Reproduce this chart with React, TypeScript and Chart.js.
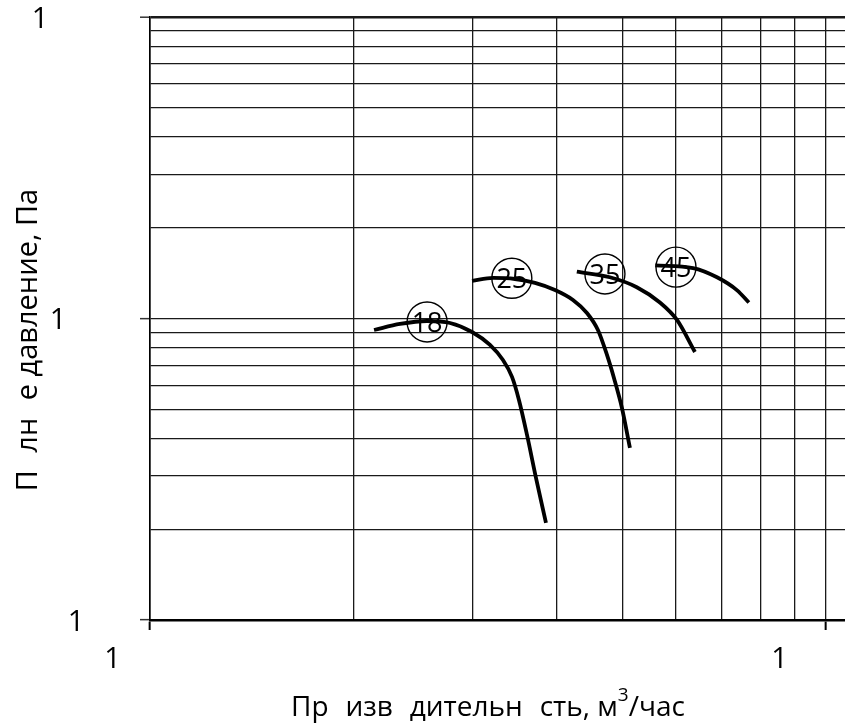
import React, { useEffect, useRef } from 'react';
import { Chart, registerables } from 'chart.js';

Chart.register(...registerables);

const FONT = '"Open Sans", "Noto Sans", sans-serif';

// Axis ranges (log scales)
const X_MIN = 100;
const X_MAX = 1067;
const Y_MIN = 10;
const Y_MAX = 1000;

// Grid / tick values
const xGridValues = [100, 200, 300, 400, 500, 600, 700, 800, 900, 1000];
const yGridValues = [10, 20, 30, 40, 50, 60, 70, 80, 90, 100, 200, 300, 400, 500, 600, 700, 800, 900, 1000];
const xMajorValues = [100, 1000];
const yMajorValues = [10, 100, 1000];
const xTickLabels = ['100', '1000'];
const yTickLabels = ['10', '100', '1000'];

// Fan curves (flow m3/h, pressure Pa)
const curve18X = [214.5, 234.3, 256.9, 277.9, 299.5, 318.4, 332.8, 343.2, 351.4, 361.2, 372.4, 385.3];
const curve18Y = [91.6, 95.9, 98.1, 96.6, 90.2, 81.7, 72.8, 64.0, 53.7, 41.1, 29.6, 21.0];
const curve25X = [299.5, 321.7, 346.7, 371.1, 397.3, 422.4, 443.0, 459.9, 474.3, 485.7, 499.1, 512.9];
const curve25Y = [133.2, 136.3, 135.2, 131.2, 124.3, 115.2, 104.3, 91.6, 75.7, 63.5, 50.5, 37.2];
const curve35X = [428, 479, 525, 568, 602, 640];
const curve35Y = [143, 137, 127, 113, 98.9, 77.4];
const curve45X = [559, 636, 690, 739, 769];
const curve45Y = [150, 147, 137, 124, 113];

// Circled curve labels
const circleNames = ['18', '25', '35', '45'];
const circleX = [257, 343, 471, 600];
const circleY = [97.4, 136, 140.5, 148];

const yTitle = 'Полное давление, Па';
const xTitleMain = 'Производительность, м';
const xTitleSup = '3';
const xTitleTail = '/час';

// glyphs missing from the original drawing's font
const HIDDEN = new Set(['о', '0']);

const pts = (xs: number[], ys: number[]) => xs.map((x, i) => ({ x, y: ys[i] }));

function drawRun(ctx: CanvasRenderingContext2D, text: string, x: number, y: number) {
  ctx.textAlign = 'left';
  for (let i = 0; i < text.length; i++) {
    const ch = text[i];
    if (HIDDEN.has(ch) || ch === ' ') continue;
    const off = ctx.measureText(text.slice(0, i)).width;
    ctx.fillText(ch, x + off, y);
  }
  return ctx.measureText(text).width;
}

const DIGIT_ADV = 18;

const textPlugin = {
  id: 'textPlugin',
  afterDraw(chart: any) {
    const ctx: CanvasRenderingContext2D = chart.ctx;
    const xs = chart.scales.x;
    const ys = chart.scales.y;
    ctx.save();
    ctx.fillStyle = '#000';

    // circle numbers
    ctx.font = `27px ${FONT}`;
    ctx.textAlign = 'center';
    ctx.textBaseline = 'alphabetic';
    circleNames.forEach((n, i) => {
      const px = xs.getPixelForValue(circleX[i]);
      const py = ys.getPixelForValue(circleY[i]);
      ctx.fillText(n, px, py + 10);
    });

    // y tick labels (right aligned)
    ctx.font = `29px ${FONT}`;
    ctx.textAlign = 'center';
    const R = ys.right - 47;
    yTickLabels.forEach((t, i) => {
      const py = ys.getPixelForValue(yMajorValues[i]);
      for (let j = 0; j < t.length; j++) {
        if (HIDDEN.has(t[j])) continue;
        const cx = R - (t.length - j - 0.5) * DIGIT_ADV;
        ctx.fillText(t[j], cx, py + 10.5);
      }
    });

    // x tick labels
    xTickLabels.forEach((t, i) => {
      const px = xs.getPixelForValue(xMajorValues[i]);
      const center = px - 19.5;
      for (let j = 0; j < t.length; j++) {
        if (HIDDEN.has(t[j])) continue;
        const cx = center - (t.length * DIGIT_ADV) / 2 + (j + 0.5) * DIGIT_ADV;
        ctx.fillText(t[j], cx, xs.top + 47.5);
      }
    });

    // x title
    ctx.font = `28px ${FONT}`;
    const wMain = ctx.measureText(xTitleMain).width;
    const wTail = ctx.measureText(xTitleTail).width;
    ctx.font = `19px ${FONT}`;
    const wSup = ctx.measureText(xTitleSup).width;
    const total = wMain + wSup + wTail;
    const start = 488 - total / 2;
    const base = xs.top + 96;
    ctx.font = `28px ${FONT}`;
    drawRun(ctx, xTitleMain, start, base);
    ctx.font = `19px ${FONT}`;
    drawRun(ctx, xTitleSup, start + wMain, base - 15);
    ctx.font = `28px ${FONT}`;
    drawRun(ctx, xTitleTail, start + wMain + wSup, base);

    // y title
    ctx.font = `29px ${FONT}`;
    const wy = ctx.measureText(yTitle).width;
    ctx.translate(37, 340);
    ctx.rotate(-Math.PI / 2);
    drawRun(ctx, yTitle, -wy / 2, 0);
    ctx.restore();
  },
};

const isIn = (arr: number[], v: number) => arr.some((a) => Math.abs(a - v) < 1e-6);

export default function App() {
  const ref = useRef<HTMLCanvasElement>(null);
  useEffect(() => {
    if (!ref.current) return;
    const lineDs = (xs: number[], ys: number[]) => ({
      type: 'line' as const,
      data: pts(xs, ys),
      borderColor: '#000',
      borderWidth: 3.8,
      borderCapStyle: 'butt' as const,
      pointRadius: 0,
      fill: false,
      cubicInterpolationMode: 'monotone' as const,
    });
    const chart = new Chart(ref.current, {
      type: 'line',
      data: {
        datasets: [
          lineDs(curve18X, curve18Y),
          lineDs(curve25X, curve25Y),
          lineDs(curve35X, curve35Y),
          lineDs(curve45X, curve45Y),
          {
            type: 'scatter' as any,
            data: pts(circleX, circleY),
            pointRadius: 20,
            pointHoverRadius: 20,
            pointBorderWidth: 1.4,
            pointBorderColor: '#000',
            pointBackgroundColor: 'rgba(0,0,0,0)',
            showLine: false,
          } as any,
        ],
      },
      options: {
        animation: false,
        responsive: true,
        maintainAspectRatio: false,
        layout: { autoPadding: false, padding: { top: 17, right: 0, left: 0, bottom: 0 } },
        plugins: { legend: { display: false }, tooltip: { enabled: false } },
        scales: {
          x: {
            type: 'logarithmic',
            min: X_MIN,
            max: X_MAX,
            afterBuildTicks: (s: any) => {
              s.ticks = xGridValues.map((v) => ({ value: v, major: isIn(xMajorValues, v) }));
            },
            afterFit: (s: any) => {
              s.height = 105;
            },
            ticks: { display: false },
            border: { display: true, color: '#000', width: 2.6 },
            grid: {
              color: '#1a1a1a',
              lineWidth: 1.3,
              drawTicks: true,
              tickLength: 10,
              tickWidth: 2,
              tickColor: (c: any) => (c.tick && isIn(xMajorValues, c.tick.value) ? '#000' : 'rgba(0,0,0,0)'),
            },
          },
          y: {
            type: 'logarithmic',
            min: Y_MIN,
            max: Y_MAX,
            afterBuildTicks: (s: any) => {
              s.ticks = yGridValues.map((v) => ({ value: v, major: isIn(yMajorValues, v) }));
            },
            afterFit: (s: any) => {
              s.width = 150;
            },
            ticks: { display: false },
            border: { display: true, color: '#000', width: 1.6 },
            grid: {
              color: '#1a1a1a',
              lineWidth: (c: any) => (c.tick && c.tick.value === Y_MAX ? 2.4 : 1.3),
              drawTicks: true,
              tickLength: 10,
              tickWidth: 1.5,
              tickColor: (c: any) => (c.tick && isIn(yMajorValues, c.tick.value) ? '#333' : 'rgba(0,0,0,0)'),
            },
          },
        },
      } as any,
      plugins: [textPlugin],
    });
    return () => chart.destroy();
  }, []);

  return (
    <div style={{ position: 'absolute', left: 0, top: 0, width: 845, height: 725, background: '#fff' }}>
      <canvas ref={ref} style={{ display: 'block' }} />
    </div>
  );
}
